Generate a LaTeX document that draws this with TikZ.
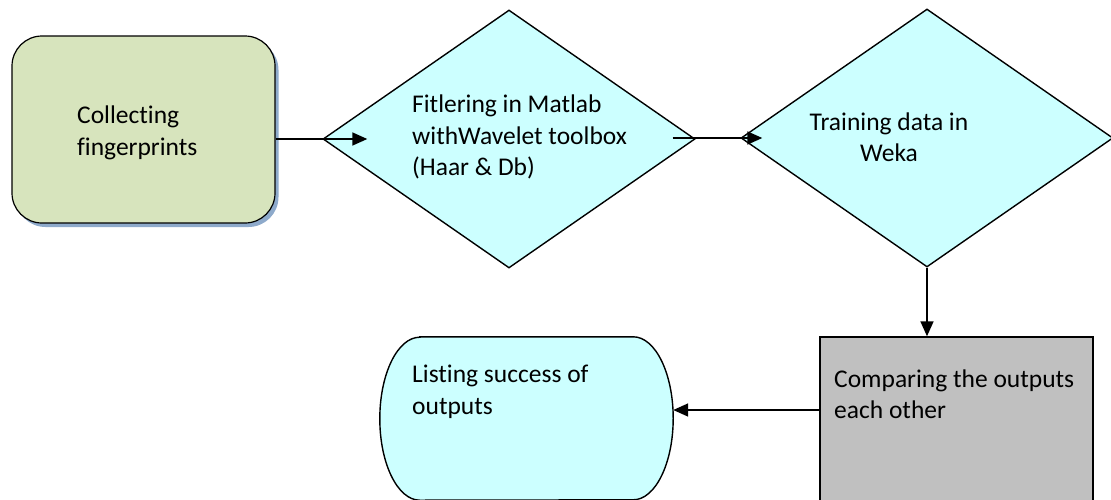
\documentclass[tikz,border=0pt]{standalone}
\usepackage{fontspec}
\setmainfont{Carlito}[Ligatures=NoCommon]
\usetikzlibrary{shapes.geometric, arrows.meta, positioning, shadows}
\definecolor{startgreen}{HTML}{D7E4BD}
\definecolor{stepcyan}{HTML}{CCFFFF}
\definecolor{shadowblue}{HTML}{8EAACB}
\definecolor{compgray}{HTML}{C0C0C0}
\begin{document}
\begin{tikzpicture}[
  x=1pt, y=-1pt,
  every node/.style={font=\fontsize{25.5}{31.5}\selectfont},
  startbox/.style={draw, line width=1.2pt, rounded corners=30pt, fill=startgreen, minimum width=263pt, minimum height=187pt, align=left,
    drop shadow={shadow xshift=3.5pt, shadow yshift=-4pt, fill=shadowblue, opacity=1}},
  decision/.style={diamond, draw, line width=1.4pt, fill=stepcyan, minimum width=372pt, minimum height=258pt, inner sep=0pt},
  procbox/.style={draw, line width=1.4pt, fill=compgray, minimum width=273pt, minimum height=190pt},
  endbox/.style={minimum width=293pt, minimum height=163pt},
  label/.style={inner sep=0pt, align=left},
  arrow/.style={-{Triangle[length=15pt, width=13pt]}, line width=1.6pt},
]
\useasboundingbox (0,0) rectangle (1111,499);
\clip (0,0) rectangle (1111,499);

% Shapes
\node[startbox] (collect) at (143.5,129.5) {};
\node[decision] (filter) at (509,139) {};
\node[decision] (train) at (927,138) {};
\node[procbox] (compare) at (956.5,432) {};
\node[endbox] (result) at (526.5,418.5) {};
\draw[line width=1.4pt, fill=stepcyan] ([xshift=40pt]result.north west) -- ([xshift=-40pt]result.north east)
  arc[start angle=90, end angle=-90, x radius=40pt, y radius=81.5pt] -- ([xshift=40pt]result.south west)
  arc[start angle=270, end angle=90, x radius=40pt, y radius=81.5pt] -- cycle;

% Texts
\node[label, anchor=west] (collecttext) at (77,133) {Collecting\\fingerprints};
\node[label, anchor=west] (filtertext) at (412,137) {Fitlering in Matlab\\withWavelet toolbox\\(Haar \& Db)};
\node[label, align=center] (traintext) at (889,137) {Training data in\\Weka};
\node[label, anchor=west] (resulttext) at (412,392) {Listing success of\\outputs};
\node[label, anchor=west] (comparetext) at (834,394) {Comparing the outputs\\each other};

% Arrows
\draw[arrow] (collect.east |- filter.west) -- ([xshift=45pt]filter.west);
\draw[arrow] ([xshift=-23pt]filter.east |- train.west) -- ([xshift=22pt]train.west);
\draw[arrow] (train.south) -- (train.south |- compare.north);
\draw[arrow] (compare.west |- 0,410) -- (result.east |- 0,410);
\end{tikzpicture}
\end{document}
